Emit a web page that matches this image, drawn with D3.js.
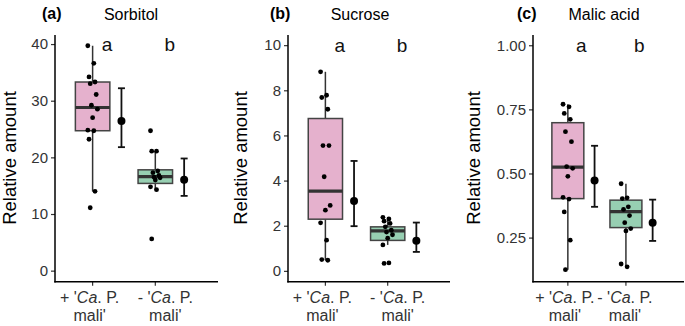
<!DOCTYPE html>
<html>
<head>
<meta charset="utf-8">
<script src="https://cdn.jsdelivr.net/npm/d3@7"></script>
<style>
  body { margin: 0; background: #fff; }
  svg { font-family: "Liberation Sans", Arial, sans-serif; }
</style>
</head>
<body>
<svg id="chart" width="685" height="326"></svg>
<script>
// ---- data ----
var groups = ["plus", "minus"];
var groupFill = ["#e5b1cd", "#97cfb2"];
var sigLetters = ["a", "b"];

// raw points (jittered in x when drawn)
var sorbitolPlus = [39.7, 36.6, 34.2, 33.3, 33.0, 31.1, 29.2, 28.5, 27.0, 24.8, 24.7, 23.2, 14.0, 11.1];
var sorbitolMinus = [24.7, 21.1, 21.1, 17.6, 17.3, 16.8, 16.5, 16.4, 16.0, 14.8, 14.3, 5.6];
var sucrosePlus = [8.82, 7.78, 7.68, 7.16, 5.55, 5.55, 4.17, 2.9, 2.69, 2.13, 1.36, 0.5, 0.47];
var sucroseMinus = [2.37, 2.3, 2.2, 2.1, 1.95, 1.8, 1.72, 1.6, 1.45, 1.15, 0.35, 0.33];
var malicPlus = [0.77, 0.76, 0.734, 0.711, 0.663, 0.624, 0.527, 0.52, 0.489, 0.407, 0.40, 0.35, 0.24, 0.125];
var malicMinus = [0.46, 0.405, 0.402, 0.37, 0.36, 0.336, 0.308, 0.285, 0.276, 0.147, 0.136];

// box stats: [whiskerLow, q1, median, q3, whiskerHigh]
var sorbitolBox = [[14.0, 24.7, 28.8, 33.3, 39.7], [14.3, 15.4, 16.6, 17.8, 21.1]];
var sucroseBox = [[0.47, 2.29, 3.53, 6.75, 8.82], [1.15, 1.35, 1.77, 1.95, 2.37]];
var malicBox = [[0.125, 0.402, 0.525, 0.698, 0.77], [0.136, 0.289, 0.351, 0.396, 0.46]];

// mean with error bar: [low, mean, high]
var sorbitolMean = [[21.8, 26.4, 32.2], [13.2, 16.05, 19.8]];
var sucroseMean = [[1.98, 3.1, 4.87], [0.84, 1.33, 2.14]];
var malicMean = [[0.37, 0.473, 0.608], [0.237, 0.308, 0.398]];

var sorbitolTicks = [0, 10, 20, 30, 40];
var sucroseTicks = [0, 2, 4, 6, 8, 10];
var malicTicks = [0.25, 0.50, 0.75, 1.00];

var panels = [
  { tag: "(a)", title: "Sorbitol", pts: [sorbitolPlus, sorbitolMinus], box: sorbitolBox, mean: sorbitolMean,
    ticks: sorbitolTicks, fmt: d3.format("d"), ydom: [-1.95, 41.6], letterY: 40,
    x0: 55, x1: 218, tagX: 42, titleX: 131, ytitleX: 16, labDx: [-3, 10] },
  { tag: "(b)", title: "Sucrose", pts: [sucrosePlus, sucroseMinus], box: sucroseBox, mean: sucroseMean,
    ticks: sucroseTicks, fmt: d3.format("d"), ydom: [-0.48, 10.45], letterY: 10,
    x0: 288, x1: 450, tagX: 270, titleX: 360, ytitleX: 247, labDx: [-3, 10] },
  { tag: "(c)", title: "Malic acid", pts: [malicPlus, malicMinus], box: malicBox, mean: malicMean,
    ticks: malicTicks, fmt: d3.format(".2f"), ydom: [0.078, 1.04], letterY: 1.0,
    x0: 533, x1: 684, tagX: 517, titleX: 604, ytitleX: 480, labDx: [-3, -1] }
];

var svg = d3.select("#chart");
var yTop = 35, yBot = 281.7;

panels.forEach(function(p) {
  var g = svg.append("g");
  var x = d3.scaleLinear().domain([0.4, 3.0]).range([p.x0, p.x1]);
  var y = d3.scaleLinear().domain(p.ydom).range([yBot, yTop]);
  var unit = x(2) - x(1);
  var boxW = unit * 0.55;

  // y axis
  var yAxis = d3.axisLeft(y).tickValues(p.ticks).tickFormat(p.fmt).tickSize(4).tickPadding(3);
  var ya = g.append("g").attr("transform", "translate(" + p.x0 + ",0)").call(yAxis);
  ya.select(".domain").remove();
  ya.selectAll(".tick line").attr("stroke", "#333").attr("stroke-width", 1.2);
  ya.selectAll(".tick text").attr("fill", "#333").style("font-size", "15px")
    .style("font-family", "Liberation Sans, Arial, sans-serif");

  // x ticks and two-line labels
  groups.forEach(function(gr, i) {
    var cx = x(i + 1);
    g.append("line").attr("x1", cx).attr("x2", cx).attr("y1", yBot).attr("y2", yBot + 4)
      .attr("stroke", "#333").attr("stroke-width", 1.2);
    var lx = cx + p.labDx[i];
    var t = g.append("text").attr("x", lx).attr("y", 303).attr("text-anchor", "middle")
      .attr("fill", "#333").style("font-size", "16px");
    t.append("tspan").text(i === 0 ? "+ '" : "- '");
    t.append("tspan").attr("font-style", "italic").text("Ca");
    t.append("tspan").text(". P.");
    g.append("text").attr("x", lx).attr("y", 321).attr("text-anchor", "middle")
      .attr("fill", "#333").style("font-size", "16px").text("mali'");
  });

  // axis lines
  g.append("line").attr("x1", p.x0).attr("x2", p.x0).attr("y1", yTop).attr("y2", yBot + 0.7)
    .attr("stroke", "#000").attr("stroke-width", 1.5);
  g.append("line").attr("x1", p.x0 - 0.7).attr("x2", p.x1).attr("y1", yBot).attr("y2", yBot)
    .attr("stroke", "#000").attr("stroke-width", 1.5);

  // boxes
  p.box.forEach(function(b, i) {
    var cx = x(i + 1);
    g.append("line").attr("x1", cx).attr("x2", cx).attr("y1", y(b[0])).attr("y2", y(b[4]))
      .attr("stroke", "#333").attr("stroke-width", 1.5);
    g.append("rect").attr("x", cx - boxW / 2).attr("width", boxW)
      .attr("y", y(b[3])).attr("height", y(b[1]) - y(b[3]))
      .attr("fill", groupFill[i]).attr("stroke", "#444").attr("stroke-width", 1.5);
    g.append("line").attr("x1", cx - boxW / 2).attr("x2", cx + boxW / 2)
      .attr("y1", y(b[2])).attr("y2", y(b[2]))
      .attr("stroke", "#333").attr("stroke-width", 3.2);
  });

  // jittered points
  p.pts.forEach(function(arr, i) {
    var cx = x(i + 1);
    g.selectAll(null).data(arr).enter().append("circle")
      .attr("cx", function(d, k) { return cx + (((k * 5) % 9) - 4) * 1.2; })
      .attr("cy", function(d) { return y(d); })
      .attr("r", 2.4).attr("fill", "#000");
  });

  // mean + error bar
  p.mean.forEach(function(m, i) {
    var mx = x(i + 1 + 0.46);
    g.append("line").attr("x1", mx).attr("x2", mx).attr("y1", y(m[0])).attr("y2", y(m[2]))
      .attr("stroke", "#111").attr("stroke-width", 1.8);
    [m[0], m[2]].forEach(function(v) {
      g.append("line").attr("x1", mx - 3.5).attr("x2", mx + 3.5).attr("y1", y(v)).attr("y2", y(v))
        .attr("stroke", "#111").attr("stroke-width", 1.8);
    });
    g.append("circle").attr("cx", mx).attr("cy", y(m[1])).attr("r", 4).attr("fill", "#000");
  });

  // significance letters
  sigLetters.forEach(function(l, i) {
    g.append("text").attr("x", x(i + 1.23)).attr("y", y(p.letterY)).attr("dy", "0.35em")
      .attr("text-anchor", "middle").attr("fill", "#111").style("font-size", "19px").text(l);
  });

  // titles
  g.append("text").attr("x", p.tagX).attr("y", 19).attr("font-weight", "bold")
    .style("font-size", "16px").attr("fill", "#000").text(p.tag);
  g.append("text").attr("x", p.titleX).attr("y", 20).attr("text-anchor", "middle")
    .style("font-size", "16px").attr("fill", "#000").text(p.title);

  g.append("text").attr("transform", "translate(" + p.ytitleX + "," + 158 + ") rotate(-90)")
    .attr("text-anchor", "middle").style("font-size", "18.5px").attr("fill", "#000")
    .text("Relative amount");
});
</script>
</body>
</html>
